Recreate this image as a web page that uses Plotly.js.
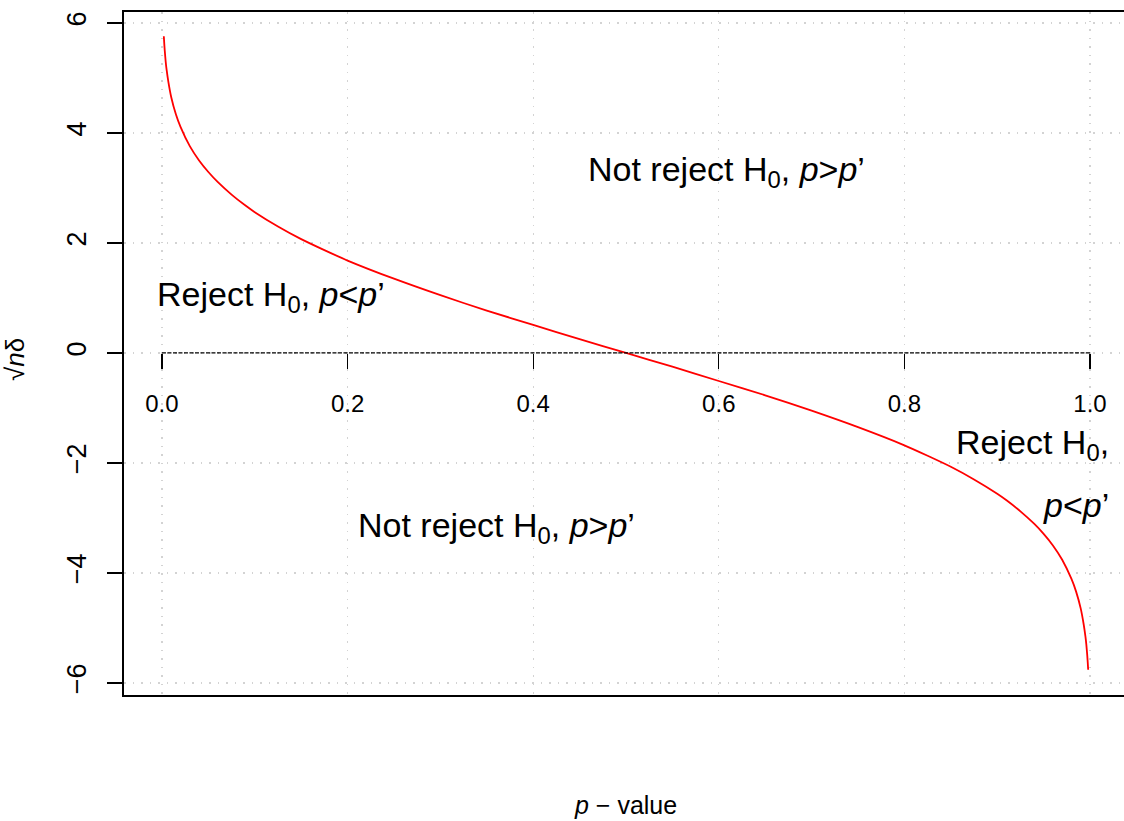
<!DOCTYPE html>
<html>
<head>
<meta charset="utf-8">
<script src="https://cdn.plot.ly/plotly-3.0.1.min.js"></script>
<style>html,body{margin:0;padding:0;background:#fff;}#chart{width:1124px;height:821px;}</style>
</head>
<body>
<div id="chart"></div>
<script>
// p-values and sqrt(n)*delta
const pValues = [0.002, 0.0025, 0.003, 0.004, 0.005, 0.007, 0.01, 0.015, 0.02, 0.03, 0.04, 0.05, 0.06, 0.075, 0.09, 0.1, 0.125, 0.15, 0.175, 0.2, 0.25, 0.3, 0.35, 0.4, 0.45, 0.5,
                 0.55, 0.6, 0.65, 0.7, 0.75, 0.8, 0.825, 0.85, 0.875, 0.9, 0.91, 0.925, 0.94, 0.95, 0.96, 0.97, 0.98, 0.985, 0.99, 0.993, 0.995, 0.996, 0.997, 0.9975, 0.998];
const sqrtNDelta = [5.76, 5.62, 5.50, 5.30, 5.15, 4.92, 4.65, 4.34, 4.11, 3.76, 3.50, 3.29, 3.11, 2.88, 2.68, 2.56, 2.30, 2.07, 1.87, 1.68, 1.35, 1.05, 0.77, 0.51, 0.25, 0.0,
                    -0.25, -0.51, -0.77, -1.05, -1.35, -1.68, -1.87, -2.07, -2.30, -2.56, -2.68, -2.88, -3.11, -3.29, -3.50, -3.76, -4.11, -4.34, -4.65, -4.92, -5.15, -5.30, -5.50, -5.62, -5.76];
const zeroLineX = [0, 1];
const zeroLineY = [0, 0];
const xTicks = [0, 0.2, 0.4, 0.6, 0.8, 1.0];
const xTickLabels = ["0.0", "0.2", "0.4", "0.6", "0.8", "1.0"];
const yTicks = [-6, -4, -2, 0, 2, 4, 6];
const yTickLabels = ["\u22126", "\u22124", "\u22122", "0", "2", "4", "6"];
const regionLabels = [
  {text: "Not reject H<sub>0</sub>, <i>p</i>><i>p</i>\u2019", x: 0.608, y: 3.3, anchor: "center"},
  {text: "Reject H<sub>0</sub>, <i>p</i><<i>p</i>\u2019", x: 0.118, y: 1.02, anchor: "center"},
  {text: "Not reject H<sub>0</sub>, <i>p</i>><i>p</i>\u2019", x: 0.36, y: -3.17, anchor: "center"},
  {text: "Reject H<sub>0</sub>,", x: 1.0226, y: -1.67, anchor: "right"},
  {text: "<i>p</i><<i>p</i>\u2019", x: 1.0226, y: -2.76, anchor: "right"}
];

const FONT = "Liberation Sans, Arial, sans-serif";
const xRange = [-0.0409, 1.0366];
const GRID_DASH = "1.5px,7px";

const traces = [
  {x: pValues, y: sqrtNDelta, type: "scatter", mode: "lines", xaxis: "x", yaxis: "y",
   line: {color: "#ff0000", width: 1.8, shape: "spline", smoothing: 0.6}, hoverinfo: "skip", showlegend: false},
  {x: zeroLineX, y: zeroLineY, type: "scatter", mode: "lines", xaxis: "x2", yaxis: "y",
   line: {color: "#000000", width: 1.2, dash: "4px,1.5px"}, hoverinfo: "skip", showlegend: false}
];

const annotations = regionLabels.map(r => ({
  text: r.text, x: r.x, y: r.y, xref: "x", yref: "y", showarrow: false,
  xanchor: r.anchor, yanchor: "middle", font: {family: FONT, size: 34, color: "#000"}
}));
annotations.push({text: "<i>p</i> \u2212 value", xref: "paper", yref: "paper", x: 0.501, y: -0.161,
  showarrow: false, xanchor: "center", yanchor: "middle", font: {family: FONT, size: 25, color: "#000"}});
annotations.push({text: "\u221A<i>n</i>\u03B4", xref: "paper", yref: "paper", x: -0.109, y: 0.4905,
  showarrow: false, xanchor: "center", yanchor: "middle", textangle: -90, font: {family: FONT, size: 26, color: "#000"}});

const layout = {
  width: 1124, height: 821,
  margin: {l: 124, r: 0, t: 12, b: 126, pad: 0},
  paper_bgcolor: "#fff", plot_bgcolor: "#fff",
  showlegend: false,
  xaxis: {range: xRange, tickvals: xTicks, showticklabels: false, ticks: "",
          showgrid: true, gridcolor: "#d3d3d3", griddash: GRID_DASH, gridwidth: 1.2,
          zeroline: false, showline: true, mirror: true, linecolor: "#000", linewidth: 1.8},
  xaxis2: {range: xRange, overlaying: "x", anchor: "free", position: 0.5007, side: "bottom",
           tickvals: xTicks, ticktext: xTickLabels, ticks: "outside", ticklen: 15, tickwidth: 1.2,
           tickcolor: "#000", ticklabelstandoff: 14, showgrid: false, zeroline: false, showline: false,
           tickfont: {family: FONT, size: 24, color: "#000"}},
  yaxis: {range: [-6.22, 6.2], tickvals: yTicks, ticktext: yTickLabels, ticks: "outside", ticklen: 15,
          tickwidth: 1.5, tickcolor: "#000", tickangle: -90, ticklabelstandoff: 10,
          showgrid: true, gridcolor: "#d3d3d3", griddash: GRID_DASH, gridwidth: 1.2,
          zeroline: false, showline: true, linecolor: "#000", linewidth: 1.8,
          tickfont: {family: FONT, size: 27, color: "#000"}},
  annotations: annotations
};

Plotly.newPlot("chart", traces, layout, {staticPlot: true, displayModeBar: false});
</script>
</body>
</html>
